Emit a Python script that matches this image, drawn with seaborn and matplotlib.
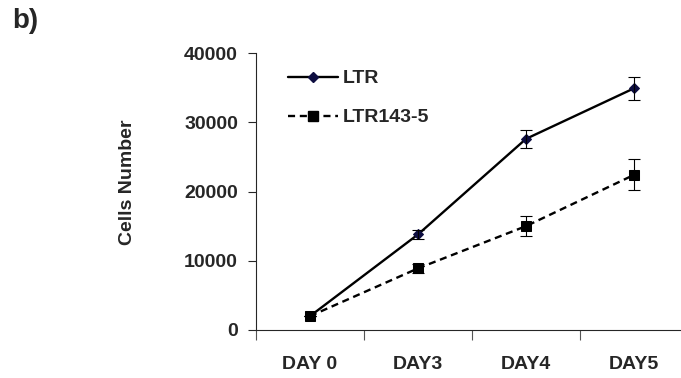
import numpy as np
import pandas as pd
import matplotlib
matplotlib.use("Agg")
import matplotlib.pyplot as plt
from matplotlib.lines import Line2D
import seaborn as sns

days = ["DAY 0", "DAY3", "DAY4", "DAY5"]
ltr = [2000, 13800, 27600, 34900]
ltr_err = [0, 600, 1350, 1700]
ltr143 = [2000, 8900, 15000, 22400]
ltr143_err = [0, 700, 1450, 2250]

sns.set_style("ticks")
plt.rcParams["font.family"] = ["Liberation Sans", "DejaVu Sans"]
plt.rcParams["font.weight"] = "bold"

df = pd.DataFrame({
    "pos": list(range(len(days))) * 2,
    "cells": ltr + ltr143,
    "err": ltr_err + ltr143_err,
    "line": ["LTR"] * len(days) + ["LTR143-5"] * len(days),
})

fig = plt.figure(figsize=(6.81, 3.78), dpi=100)
ax = fig.add_axes([256 / 681, 48 / 378, 432 / 681, 277 / 378])

sns.lineplot(data=df, x="pos", y="cells", style="line", hue="line",
             palette={"LTR": "black", "LTR143-5": "black"},
             dashes={"LTR": "", "LTR143-5": (3, 2)},
             markers={"LTR": "D", "LTR143-5": "s"},
             ax=ax, linewidth=1.7, legend=False)
# marker sizes / colours like the original
for ln, (ms, fc) in zip(ax.lines, [(5.5, "#0d0d40"), (7, "black")]):
    ln.set_markersize(ms)
    ln.set_markerfacecolor(fc)
    ln.set_markeredgecolor(fc)

for name, g in df.groupby("line"):
    ax.errorbar(g["pos"], g["cells"], yerr=g["err"], fmt="none",
                ecolor="black", elinewidth=0.8, capsize=4, capthick=0.8)

ax.set_xlim(-0.5, 3.5)
ax.set_ylim(0, 40000)
ax.set_yticks([0, 10000, 20000, 30000, 40000])
ax.set_xticks([-0.5, 0.5, 1.5, 2.5, 3.5])
ax.set_xticklabels([])
ax.set_xticks(range(len(days)), minor=True)
ax.set_xticklabels(days, minor=True)
ax.tick_params(axis="x", which="major", length=7, width=0.8, color="#555555")
ax.tick_params(axis="x", which="minor", length=0, pad=19, labelsize=14)
ax.tick_params(axis="y", length=6, width=0.8, labelsize=14, pad=7)
for lab in ax.get_xticklabels(minor=True) + ax.get_yticklabels():
    lab.set_fontweight("bold")
sns.despine(ax=ax)
ax.spines["left"].set_linewidth(0.8)
ax.spines["bottom"].set_linewidth(0.8)
ax.set_xlabel("")
ax.set_ylabel("")

fig.text(127 / 681, 1 - 182 / 378, "Cells Number", rotation=90, ha="center",
         va="center", fontsize=14, fontweight="bold")
fig.text(12 / 681, 1 - 21 / 378, "b)", ha="left", va="center", fontsize=20,
         fontweight="bold")

handles = [
    Line2D([], [], color="black", lw=1.7, marker="D", markersize=5.5,
           markerfacecolor="#0d0d40", markeredgecolor="#0d0d40"),
    Line2D([], [], color="black", lw=1.7, ls=(0, (3, 2)), marker="s",
           markersize=7, markerfacecolor="black"),
]
ax.legend(handles, ["LTR", "LTR143-5"], loc="upper left",
          bbox_to_anchor=(280 / 681, 1 - 62 / 378), bbox_transform=fig.transFigure,
          frameon=False, prop={"size": 14, "weight": "bold"},
          handlelength=2.6, handletextpad=0.25, labelspacing=1.1, borderaxespad=0)

fig.savefig("out.png", dpi=100)
